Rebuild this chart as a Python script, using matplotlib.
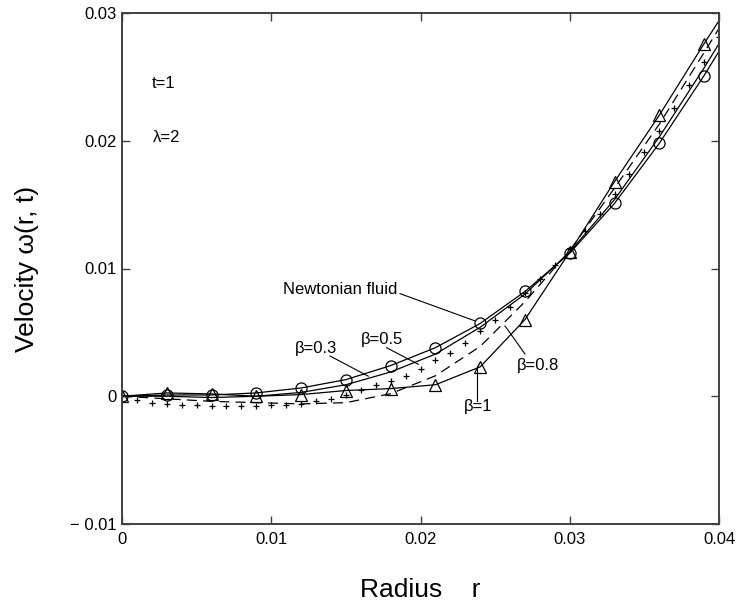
import matplotlib
matplotlib.use("Agg")
import matplotlib.pyplot as plt
import numpy as np

# ---- data ----
r_coarse = [0.0, 0.003, 0.006, 0.009, 0.012, 0.015, 0.018, 0.021, 0.024,
            0.027, 0.030, 0.033, 0.036, 0.039, 0.040]
newtonian = [0.0, 0.0001, 0.0001, 0.00026, 0.00065, 0.0013, 0.0024, 0.0038,
             0.0057, 0.0082, 0.0112, 0.0151, 0.0198, 0.0251, 0.0270]
beta03 = [0.0, 0.0, -0.0001, 0.0, 0.0003, 0.0009, 0.0019, 0.0033, 0.0054,
          0.0080, 0.0113, 0.0154, 0.0203, 0.0257, 0.0276]
beta08 = [0.0, -0.0002, -0.0004, -0.0005, -0.0006, -0.0005, 0.0002, 0.0016,
          0.0039, 0.0074, 0.0114, 0.0163, 0.0213, 0.0269, 0.0288]
beta1 = [0.0, 0.00026, 0.00018, 0.0, 0.00013, 0.00045, 0.0006, 0.0009,
         0.0023, 0.0060, 0.0113, 0.0168, 0.0220, 0.0276, 0.0294]

r_fine = [0.000, 0.001, 0.002, 0.003, 0.004, 0.005, 0.006, 0.007, 0.008,
          0.009, 0.010, 0.011, 0.012, 0.013, 0.014, 0.015, 0.016, 0.017,
          0.018, 0.019, 0.020, 0.021, 0.022, 0.023, 0.024, 0.025, 0.026,
          0.027, 0.028, 0.029, 0.030, 0.031, 0.032, 0.033, 0.034, 0.035,
          0.036, 0.037, 0.038, 0.039, 0.040]
beta05 = [0.0, -0.0003, -0.0005, -0.0006, -0.0007, -0.0007, -0.0008, -0.0008,
          -0.0008, -0.0008, -0.0007, -0.0007, -0.0006, -0.0004, -0.0002,
          0.0001, 0.0005, 0.0009, 0.0012, 0.0016, 0.0021, 0.0028, 0.0034,
          0.0042, 0.0051, 0.0060, 0.0070, 0.0081, 0.0092, 0.0103, 0.0115,
          0.0129, 0.0143, 0.0158, 0.0174, 0.0191, 0.0208, 0.0226, 0.0244,
          0.0262, 0.0281]

xticks = [0.0, 0.01, 0.02, 0.03, 0.04]
xticklabels = ["0", "0.01", "0.02", "0.03", "0.04"]
yticks = [-0.01, 0.0, 0.01, 0.02, 0.03]
yticklabels = ["\u2212 0.01", "0", "0.01", "0.02", "0.03"]

W, H = 748, 614
fig = plt.figure(figsize=(W / 100, H / 100), dpi=100)
ax = fig.add_axes([122 / W, 1 - 524 / H, (719 - 122) / W, (524 - 13) / H])

narrow = ["Liberation Sans Narrow", "Liberation Sans", "DejaVu Sans"]
sans = ["Liberation Sans", "DejaVu Sans"]

lw = 0.9
mk = dict(markersize=8, markerfacecolor="none", markeredgecolor="black",
          markeredgewidth=0.9)
ax.plot(r_coarse, newtonian, color="black", lw=lw, marker="o",
        markevery=list(range(len(r_coarse) - 1)), **mk)
ax.plot(r_coarse, beta03, color="black", lw=lw)
ax.plot(r_fine, beta05, color="black", lw=0, marker="+", markersize=4,
        markeredgewidth=0.9)
ax.plot(r_coarse, beta08, color="black", lw=lw, dashes=(8, 5))
ax.plot(r_coarse, beta1, color="black", lw=lw, marker="^",
        markevery=list(range(len(r_coarse) - 1)), **mk)

ax.set_xlim(0, 0.04)
ax.set_ylim(-0.01, 0.03)
ax.set_xticks(xticks)
ax.set_xticklabels(xticklabels, family=narrow, fontsize=12)
ax.set_yticks(yticks)
ax.set_yticklabels(yticklabels, family=narrow, fontsize=12)
ax.tick_params(direction="in", length=6, width=1.0, top=True, right=True,
               color="#404040")
ax.tick_params(axis="x", pad=6)
ax.tick_params(axis="y", pad=4)
for sp in ax.spines.values():
    sp.set_color("#404040")
    sp.set_linewidth(1.4)

ax.set_xlabel("Radius    r", family=sans, fontsize=19, labelpad=22)
ax.set_ylabel("Velocity \u03c9(r, t)", family=sans, fontsize=19, labelpad=22)

tk = dict(family=narrow, fontsize=12, va="center", ha="left")
ax.text(0.00201, 0.02445, "t=1", **tk)
ax.text(0.00208, 0.02028, "\u03bb=2", **tk)
ax.text(0.01843, 0.00835, "Newtonian fluid", family=narrow, fontsize=12,
        va="center", ha="right")
ax.text(0.01159, 0.00374, "\u03b2=0.3", **tk)
ax.text(0.01600, 0.00445, "\u03b2=0.5", **tk)
ax.text(0.02647, 0.00244, "\u03b2=0.8", **tk)
ax.text(0.02385, -0.00083, "\u03b2=1", family=narrow, fontsize=12,
        va="center", ha="center")

ll = dict(color="black", lw=0.8)
ax.plot([0.01863, 0.02365], [0.00803, 0.0059], **ll)
ax.plot([0.01394, 0.0165], [0.00315, 0.00157], **ll)
ax.plot([0.01773, 0.01985], [0.0038, 0.0025], **ll)
ax.plot([0.0270, 0.02566], [0.00331, 0.00551], **ll)
ax.plot([0.02377, 0.02377], [-0.00035, 0.00236], **ll)

fig.savefig("out.png", dpi=100)
